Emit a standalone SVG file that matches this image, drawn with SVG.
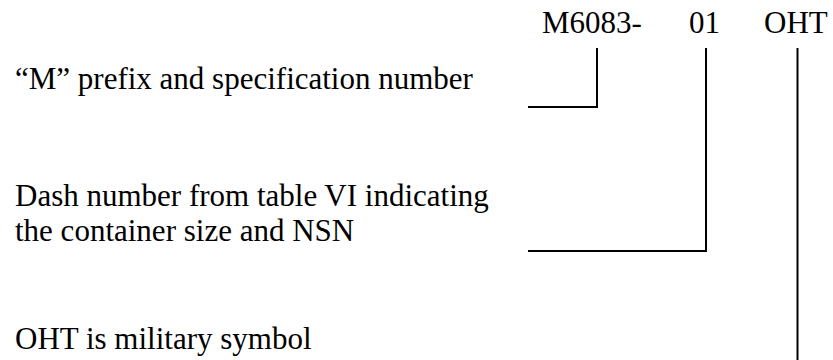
<svg xmlns="http://www.w3.org/2000/svg" width="833" height="360" viewBox="0 0 833 360">
<style>
text{font-family:"Liberation Serif","Times New Roman",serif;font-size:31px;fill:#000}
.c{fill:none;stroke:#000;stroke-width:2}
</style>
<rect width="833" height="360" fill="#fff"/>
<g id="code">
<text x="542" y="33">M6083-</text>
<text x="689" y="33">01</text>
<text x="764" y="33">OHT</text>
</g>
<g id="label-prefix"><text x="15" y="89">“M” prefix and specification number</text></g>
<g id="label-dash"><text x="15" y="206">Dash number from table VI indicating</text><text x="15" y="241">the container size and NSN</text></g>
<g id="label-oht"><text x="15" y="349">OHT is military symbol</text></g>
<g id="connectors">
<polyline class="c" points="528,107 597,107 597,48"/>
<polyline class="c" points="528,251 706,251 706,48"/>
<line class="c" x1="797.5" y1="48" x2="797.5" y2="360"/>
</g>
</svg>
